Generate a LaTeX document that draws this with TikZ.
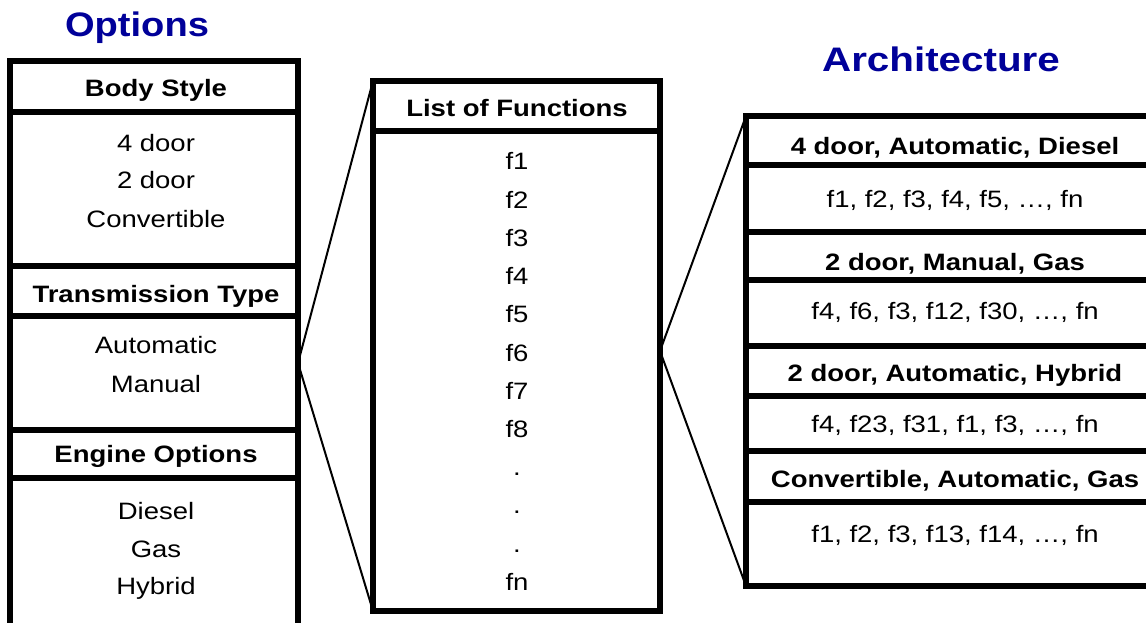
\documentclass[tikz,border=0pt]{standalone}
\usepackage{fontspec}
\setmainfont{Liberation Sans}
\usetikzlibrary{positioning}
\definecolor{titleBlue}{RGB}{0,0,153}
\newcommand{\boxLine}{5.5pt}
\newcommand{\linkLine}{2pt}
\newcommand{\itemSize}{\fontsize{23.7}{28}\selectfont}
\newcommand{\titleSize}{\fontsize{34}{40}\selectfont}
\newcommand{\textStretch}{1.16}

\tikzset{
  boxframe/.style={draw, line width=\boxLine, inner sep=0pt, outer sep=0pt},
  boxrule/.style={line width=\boxLine},
  linkline/.style={line width=\linkLine},
  headtext/.style={anchor=base, inner sep=0pt, font=\itemSize\bfseries, xscale=\textStretch},
  itemtext/.style={anchor=base, inner sep=0pt, font=\itemSize, xscale=\textStretch},
  titletext/.style={anchor=base, inner sep=0pt, font=\titleSize\bfseries, text=titleBlue, xscale=1.12}
}

\begin{document}
\begin{tikzpicture}[x=1pt, y=-1pt]
\useasboundingbox (0,0) rectangle (1146,623);

% frames
\node[boxframe, anchor=north west, minimum width=288pt, minimum height=565pt] (optbox) at (10,61) {};
\node[boxframe, anchor=north west, minimum width=287pt, minimum height=530pt] (funcbox) at (373,81) {};
\node[boxframe, anchor=north west, minimum width=418pt, minimum height=470pt] (archbox) at (746,116) {};

\foreach \y in {112,266,316,430,478}
   \draw[boxrule] (optbox.west |- 0,\y) -- (optbox.east |- 0,\y);
\draw[boxrule] (funcbox.west |- 0,131) -- (funcbox.east |- 0,131);
\foreach \y in {165,232,280,346,396,451,502}
   \draw[boxrule] (archbox.west |- 0,\y) -- (archbox.east |- 0,\y);

% zoom lines
\coordinate (optlink) at (optbox.east |- 0,363);
\coordinate (funclink) at (funcbox.east |- 0,351);
\draw[linkline] (funcbox.north west) -- (optlink) -- (funcbox.south west);
\draw[linkline] (archbox.north west) -- (funclink) -- (archbox.south west);

% titles
\node[titletext] (opttitle) at (137,36.5) {Options};
\node[titletext, xscale=1.06] (archtitle) at (941,71.5) {Architecture};

% options
\node[headtext] (bodyhead) at (156,97) {Body Style};
\node[itemtext] (body1) at (156,152) {4 door};
\node[itemtext] (body2) at (156,189) {2 door};
\node[itemtext] (body3) at (156,227) {Convertible};
\node[headtext] (transhead) at (156,302) {Transmission Type};
\node[itemtext] (trans1) at (156,353) {Automatic};
\node[itemtext] (trans2) at (156,392) {Manual};
\node[headtext] (enghead) at (156,462) {Engine Options};
\node[itemtext] (eng1) at (156,519) {Diesel};
\node[itemtext] (eng2) at (156,557) {Gas};
\node[itemtext] (eng3) at (156,594) {Hybrid};

% functions
\node[headtext] (funchead) at (517,117) {List of Functions};
\foreach \fname [count=\i] in {f1,f2,f3,f4,f5,f6,f7,f8,.,.,.,fn}
   \node[itemtext] (func\i) at (517,{170+38.2*(\i-1)}) {\fname};

% architecture
\node[headtext] (archhead1) at (955,155) {4 door, Automatic, Diesel};
\node[itemtext] (archrow1) at (955,207) {f1, f2, f3, f4, f5, …, fn};
\node[headtext] (archhead2) at (955,270) {2 door, Manual, Gas};
\node[itemtext] (archrow2) at (955,319) {f4, f6, f3, f12, f30, …, fn};
\node[headtext] (archhead3) at (955,381) {2 door, Automatic, Hybrid};
\node[itemtext] (archrow3) at (955,432) {f4, f23, f31, f1, f3, …, fn};
\node[headtext] (archhead4) at (955,487) {Convertible, Automatic, Gas};
\node[itemtext] (archrow4) at (955,542) {f1, f2, f3, f13, f14, …, fn};

\end{tikzpicture}
\end{document}
